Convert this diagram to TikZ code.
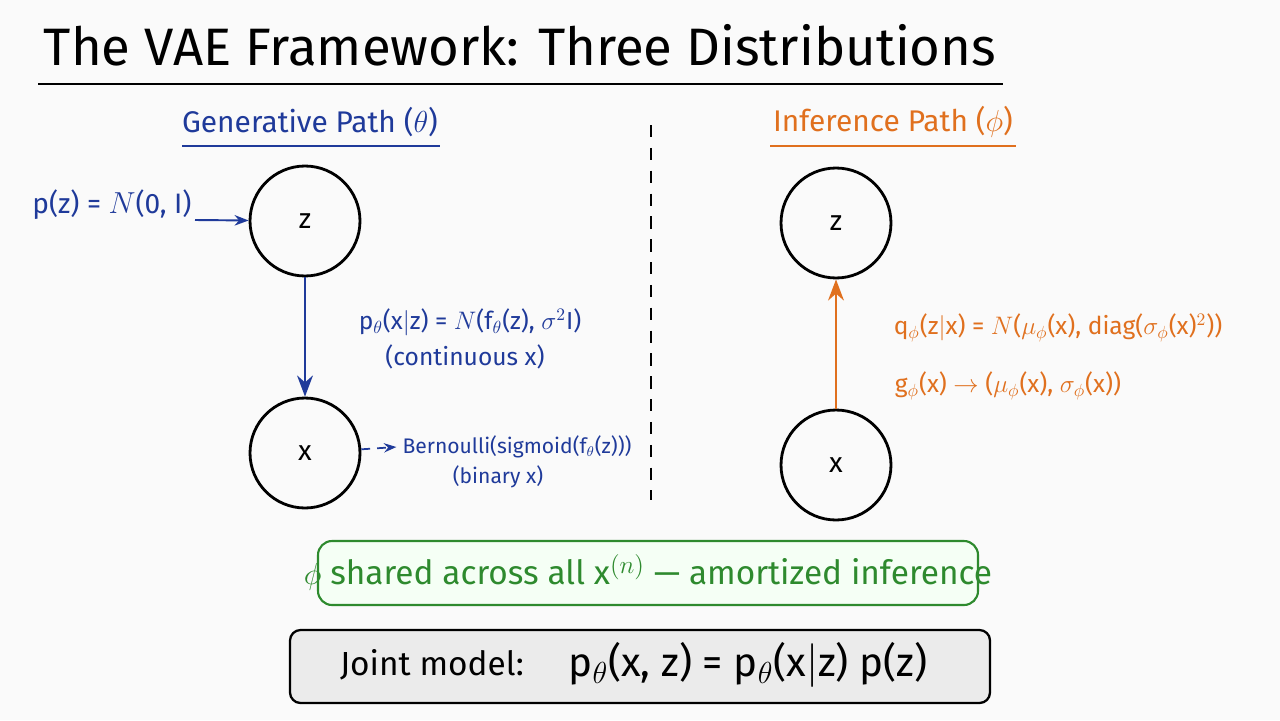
\documentclass[tikz,border=0pt]{standalone}
\usepackage{fontspec}
\setmainfont{Fira Sans}
\usetikzlibrary{arrows.meta}
\definecolor{gblue}{HTML}{1F3A9A}
\definecolor{iorange}{HTML}{E0701E}
\definecolor{sgreen}{HTML}{2E8A2E}
\begin{document}
\begin{tikzpicture}[x=0.02cm,y=-0.02cm,
  circ/.style={circle,draw=black,line width=1.6pt,minimum size=78\pgflinewidth,inner sep=0pt,font=\fontsize{16}{18}\selectfont},
  bl/.style={text=gblue,font=\fontsize{14}{16}\selectfont},
  ol/.style={text=iorange,font=\fontsize{14}{16}\selectfont}]
\useasboundingbox[fill=white!98!black] (0,0) rectangle (1280,720);
\node (title) at (520,45) {\fontsize{30}{34}\selectfont The VAE Framework: Three Distributions};
\draw[line width=1.2pt] (38,84) -- (1003,84);
\node[text=gblue,font=\fontsize{17}{20}\selectfont] (gp) at (310,122) {Generative Path ($\theta$)};
\draw[gblue,line width=1.2pt] (182,146) -- (440,146);
\node[text=iorange,font=\fontsize{17}{20}\selectfont] (ip) at (893,122) {Inference Path ($\phi$)};
\draw[iorange,line width=1.2pt] (770,146) -- (1016,146);
\coordinate (d1) at (651,125); \coordinate (d2) at (651,500);
\draw[line width=1.2pt,dash pattern=on 7pt off 6pt] (d1) -- (d2);
\node[circ,minimum size=2.2cm] (z1) at (305,221) {z};
\node[circ,minimum size=2.2cm] (x1) at (305,453) {x};
\node[circ,minimum size=2.2cm] (z2) at (836,223) {z};
\node[circ,minimum size=2.2cm] (x2) at (836,465) {x};
\node[bl,font=\fontsize{16}{18}\selectfont] (pz) at (112,205) {p(z) = $N$(0, I)};
\draw[gblue,line width=1.1pt,-{Stealth[length=8pt]}] (195,220) -- (z1);
\draw[gblue,line width=1.4pt,-{Stealth[length=12pt]}] (z1) -- (x1);
\node[bl] (pl) at (470,322) {p$_\theta$(x$|$z) = $N$(f$_\theta$(z), $\sigma^2$I)};
\node[bl] (pl2) at (465,357) {(continuous x)};
\node[bl,font=\fontsize{12}{14}\selectfont] (be) at (517,447) {Bernoulli(sigmoid(f$_\theta$(z)))};
\node[bl,font=\fontsize{12}{14}\selectfont] (be2) at (498,477) {(binary x)};
\draw[gblue,line width=1pt,dash pattern=on 5pt off 4pt,-{Stealth[length=7pt]}] (x1) -- (be.west);
\draw[iorange,line width=1.4pt,-{Stealth[length=12pt]}] (x2) -- (z2);
\node[ol] (q) at (1058,328) {q$_\phi$(z$|$x) = $N$($\mu_\phi$(x), diag($\sigma_\phi$(x)$^2$))};
\node[ol] (g) at (1008,386) {g$_\phi$(x) $\rightarrow$ ($\mu_\phi$(x), $\sigma_\phi$(x))};
\draw[sgreen,line width=1.2pt,rounded corners=8pt,fill=green!4] (318,541) rectangle (978,605);
\node[text=sgreen,font=\fontsize{19}{22}\selectfont] (sh) at (648,572) {$\phi$ shared across all x$^{(n)}$ --- amortized inference};
\draw[black,line width=1.3pt,rounded corners=6pt,fill=black!8] (290,630) rectangle (990,703);
\node[font=\fontsize{19}{22}\selectfont] (jm) at (432,665) {Joint model:};
\node[font=\fontsize{23}{26}\selectfont] (jf) at (748,665) {p$_\theta$(x, z) = p$_\theta$(x$|$z) p(z)};
\end{tikzpicture}
\end{document}
